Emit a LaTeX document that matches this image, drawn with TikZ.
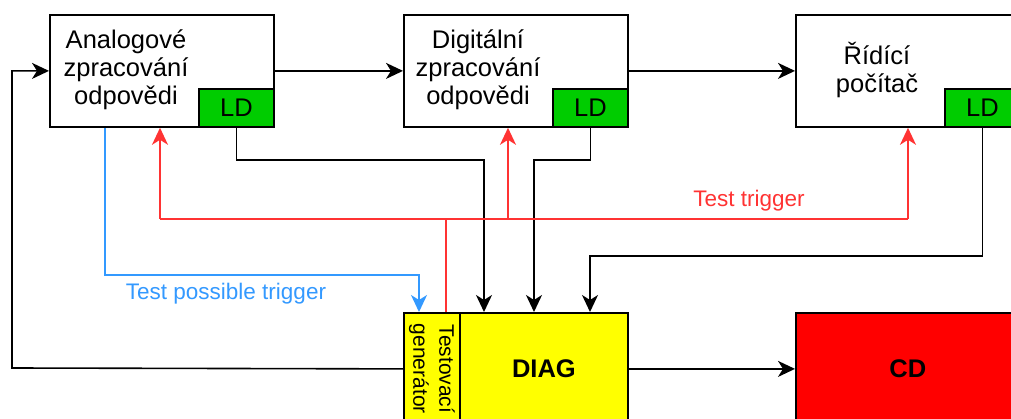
\documentclass[tikz,border=0pt]{standalone}
\usepackage{fontspec}
\setmainfont{Liberation Sans}
\usetikzlibrary{arrows.meta,positioning}
\definecolor{ldgreen}{HTML}{00CC00}
\definecolor{diagyellow}{HTML}{FFFF00}
\definecolor{cdred}{HTML}{FF0000}
\definecolor{trigred}{HTML}{FF3333}
\definecolor{possblue}{HTML}{3399FF}
\tikzset{
  blockbox/.style={draw=black, line width=1.8pt, fill=white, minimum width=224pt, minimum height=112pt, inner sep=0pt, anchor=north west},
  ldbox/.style={draw=black, line width=1.8pt, fill=ldgreen, minimum width=75pt, minimum height=38pt, inner sep=0pt, anchor=south east, font=\fontsize{25.5}{28}\selectfont},
  blocktext/.style={align=center, inner sep=0pt, font=\fontsize{25.5}{28}\selectfont},
  headarrow/.style={-{Stealth[length=17pt,width=16pt,inset=5pt]}},
  conn/.style={draw=black, line width=1.6pt},
  trig/.style={draw=trigred, line width=1.6pt},
  poss/.style={draw=possblue, line width=1.6pt},
  lbl/.style={inner sep=0pt, font=\fontsize{22.5}{25}\selectfont}
}
\begin{document}
\begin{tikzpicture}[x=1pt,y=-1pt]
\clip (0,0) rectangle (1011,419);
\fill[white] (0,0) rectangle (1011,419);

% processing chain
\node[blockbox] (b1) at (49,14) {};
\node[blockbox] (b2) at (403,14) {};
\node[blockbox] (b3) at (795,14) {};
\node[ldbox] (ld1) at (b1.south east) {LD};
\node[ldbox] (ld2) at (b2.south east) {LD};
\node[ldbox] (ld3) at (b3.south east) {LD};
\node[blocktext] (t1) at (126,70) {Analogové\\zpracování\\odpovědi};
\node[blocktext] (t2) at (478,70) {Digitální\\zpracování\\odpovědi};
\node[blocktext] (t3) at (877,70) {Řídící\\počítač};

% diagnostics and CD
\node[draw=black, line width=1.8pt, fill=diagyellow, minimum width=168pt, minimum height=112pt, inner sep=0pt, anchor=north west, font=\fontsize{25.5}{28}\selectfont\bfseries] (diag) at (459,312) {DIAG};
\node[draw=black, line width=1.8pt, fill=diagyellow, minimum width=56pt, minimum height=112pt, inner sep=0pt, anchor=north west] (gen) at (403,312) {};
\node[rotate=-90, align=center, inner sep=0pt, font=\fontsize{21}{26}\selectfont] (gent) at (gen.center) {Testovací\\generátor};
\node[draw=black, line width=1.8pt, fill=cdred, minimum width=224pt, minimum height=112pt, inner sep=0pt, anchor=north west, font=\fontsize{25.5}{28}\selectfont\bfseries] (cd) at (795,312) {CD};

% routing points
\coordinate (k1) at (484,160);
\coordinate (k2) at (534,160);
\coordinate (k3) at (590,256);
\coordinate (fb) at (12,368);
\coordinate (rl) at (160,219);
\coordinate (rm) at (508,219);
\coordinate (rj) at (446,219);
\coordinate (rr) at (908,219);
\coordinate (pl) at (105,275);
\coordinate (pr) at (419,275);

% main data flow
\draw[conn,headarrow] (b1.east) -- (b2.west);
\draw[conn,headarrow] (b2.east) -- (b3.west);
\draw[conn,headarrow] (diag.east) -- (cd.west);
\draw[conn,headarrow] (gen.west) -- (fb) |- (b1.west);

% LD outputs to DIAG
\draw[conn,headarrow] (ld1.south) |- (k1) -- (k1 |- diag.north);
\draw[conn,headarrow] (ld2.south) |- (k2) -- (k2 |- diag.north);
\draw[conn,headarrow] (ld3.south) |- (k3) -- (k3 |- diag.north);

% test trigger distribution
\draw[trig] (rj |- gen.north) -- (rj);
\draw[trig] (rl) -- (rr);
\draw[trig,headarrow] (rl) -- (rl |- b1.south);
\draw[trig,headarrow] (rm) -- (rm |- b2.south);
\draw[trig,headarrow] (rr) -- (rr |- b3.south);
\node[lbl, text=trigred] (tlab) at (749,201) {Test trigger};

% test possible trigger
\draw[poss,headarrow] (pl |- b1.south) -- (pl) -- (pr) -- (pr |- gen.north);
\node[lbl, text=possblue] (plab) at (226,294) {Test possible trigger};
\end{tikzpicture}
\end{document}
